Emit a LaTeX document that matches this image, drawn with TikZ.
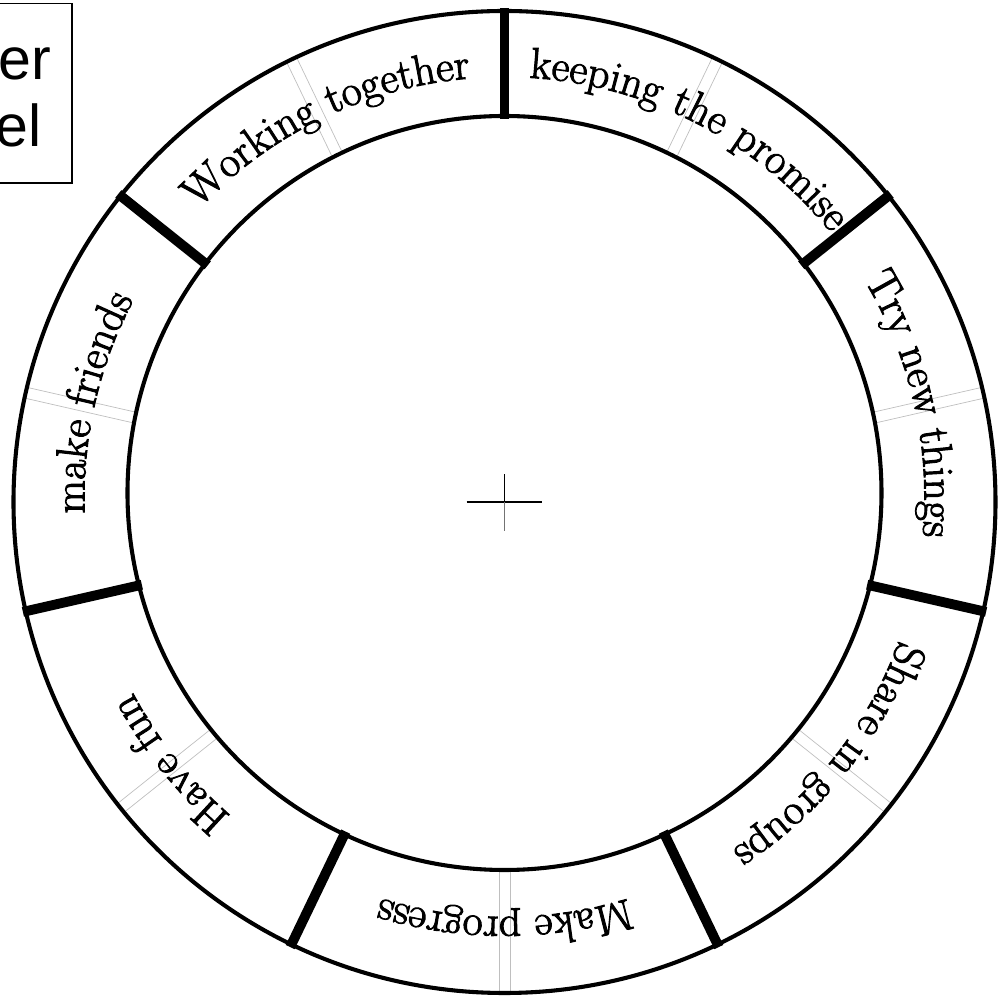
\documentclass[tikz,border=0pt]{standalone}
\usepackage{fontspec}
\newfontfamily\boxfont{Liberation Sans}
\newfontfamily\wheelfamily{Latin Modern Roman}[FakeBold=2.2]
\usetikzlibrary{decorations.text}
\newcommand{\wheelfont}{\wheelfamily\fontsize{31}{37}\selectfont}

\begin{document}
\begin{tikzpicture}[x=0.025cm, y=0.025cm,
  ring/.style={line width=2.9pt},
  divider/.style={line width=7pt},
  midline/.style={line width=0.5pt, color=black!25},
  arctext/.style={decorate, decoration={text along path, text align=center}},
  boxtext/.style={anchor=base east, inner sep=0pt, font=\boxfont\fontsize{42}{50}\selectfont}]
\useasboundingbox (-504.5,-495) rectangle (503.5,502);

% grey marks in the middle of every part
\foreach \a in {64.29,12.86,-38.57,-90,-141.43,-192.86,-244.29}
  \foreach \s in {-5.5,5.5}
    \draw[midline, rotate=\a] ({375+9*sin(\a)},\s) -- (493,\s);

% the ring
\draw[ring] (0,0) circle (491);
\draw[ring] (0,9) circle (377);

% dividers between the parts
\foreach \k in {0,...,6}
  \draw[divider] ({90-\k*360/7}:{374+9*sin(90-\k*360/7)}) -- ({90-\k*360/7}:494);

% labels, clockwise
\path[arctext, shift={(0,5)}, decoration={text={|\wheelfont|keeping the promise}}] (92.79:420) arc[start angle=92.79, end angle=32.79, radius=420];
\path[arctext, shift={(0,5)}, decoration={text={|\wheelfont|Try new things}}] (42.86:420) arc[start angle=42.86, end angle=-17.14, radius=420];
\path[arctext, shift={(0,5)}, decoration={text={|\wheelfont|Share in groups}}] (-8.57:420) arc[start angle=-8.57, end angle=-68.57, radius=420];
\path[arctext, shift={(0,5)}, decoration={text={|\wheelfont|Make progress}}] (-60:420) arc[start angle=-60, end angle=-120, radius=420];
\path[arctext, shift={(0,5)}, decoration={text={|\wheelfont|Have fun}}] (-111.43:420) arc[start angle=-111.43, end angle=-171.43, radius=420];
\path[arctext, shift={(0,5)}, decoration={text={|\wheelfont|make friends}}] (-162.86:420) arc[start angle=-162.86, end angle=-222.86, radius=420];
\path[arctext, shift={(0,5)}, decoration={text={|\wheelfont|Working together}}] (-214.29:420) arc[start angle=-214.29, end angle=-274.29, radius=420];

% centre mark
\draw[line width=0.8pt] (-37.8,0) -- (37.2,0) (0,0) -- (0,28);
\draw[line width=0.8pt, black!55] (0,0) -- (0,-28.7);

% box in the corner
\draw[line width=1pt] (-520,319) rectangle (-432.5,498.7);
\node[boxtext] (er) at (-453.5,422) {er};
\node[boxtext] (el) at (-462.5,355) {el};
\end{tikzpicture}
\end{document}
